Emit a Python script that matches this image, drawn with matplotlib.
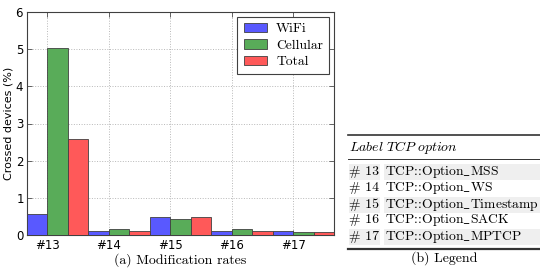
import matplotlib
matplotlib.use("Agg")
import matplotlib.pyplot as plt
import numpy as np
from matplotlib.lines import Line2D
from matplotlib.patches import Rectangle

categories = ["#13", "#14", "#15", "#16", "#17"]
wifi = [0.56, 0.10, 0.48, 0.10, 0.10]
cellular = [5.02, 0.15, 0.44, 0.15, 0.08]
total = [2.57, 0.11, 0.48, 0.11, 0.07]
series_names = ["WiFi", "Cellular", "Total"]
table_labels = ["# 13", "# 14", "# 15", "# 16", "# 17"]
table_options = ["TCP::Option_MSS", "TCP::Option_WS", "TCP::Option_Timestamp",
                 "TCP::Option_SACK", "TCP::Option_MPTCP"]

plt.rcParams['font.family'] = ['cmr10', 'DejaVu Serif']
plt.rcParams['mathtext.fontset'] = 'cm'
plt.rcParams['axes.formatter.use_mathtext'] = True

fig = plt.figure(figsize=(5.4, 2.74), dpi=100)
ax = fig.add_axes([27/540, 1-235/274, (334-27)/540, (235-12)/274])

ind = np.arange(len(categories))
w = 1/3
colors = ["#5959ff", "#59ac59", "#ff5959"]
for k, (vals, name) in enumerate(zip([wifi, cellular, total], series_names)):
    ax.bar(ind + k*w, vals, w, align='edge', color=colors[k], edgecolor='0.25',
           linewidth=0.6, label=name, zorder=3)

ax.set_xlim(0, 5)
ax.set_ylim(0, 6)
ax.set_xticks(ind + w)
ax.set_xticklabels(categories)
ax.set_yticks(range(7))
ax.tick_params(direction='in', top=True, right=True, length=3.5, width=0.6,
               labelsize=8.5, pad=3, color='0.3')
ax.tick_params(axis='y', pad=2)
for lab in ax.get_xticklabels() + ax.get_yticklabels():
    lab.set_fontfamily('DejaVu Sans')
ax.grid(True, linestyle=':', color='#b8b8b8', linewidth=0.7, zorder=0)
for s in ax.spines.values():
    s.set_linewidth(0.8)
    s.set_color('0.25')
ax.set_ylabel("Crossed devices (%)", fontsize=8, labelpad=1.5, fontfamily='DejaVu Sans')
ax.set_xlabel("(a) Modification rates", fontsize=10, labelpad=1)

leg = ax.legend(loc='upper right', prop={'size': 9.8}, fancybox=False, framealpha=1,
                edgecolor='0.25', handlelength=1.7, handleheight=0.66, handletextpad=0.7,
                borderaxespad=0.35, labelspacing=0.3, borderpad=0.45)
leg.get_frame().set_linewidth(0.8)

# Table (b)
x0, x1 = 348/540, 540/540
def fy(py):
    return 1 - py/274

row_y = [172, 188, 205, 220, 237]
for i, (lab, opt) in enumerate(zip(table_labels, table_options)):
    if i % 2 == 0:
        fig.add_artist(Rectangle((349/540, fy(row_y[i]+8)), (380-349)/540, 16/274,
                                 transform=fig.transFigure, color='#efefef', lw=0, zorder=0))
        fig.add_artist(Rectangle((384/540, fy(row_y[i]+8)), (540-384)/540, 16/274,
                                 transform=fig.transFigure, color='#efefef', lw=0, zorder=0))
    fig.text(349/540, fy(row_y[i]), lab, fontsize=10, va='center', ha='left')
    mt = opt.replace("_", r"$\_$")
    fig.text(385/540, fy(row_y[i]), mt, fontsize=9.8, va='center', ha='left')

fig.text(349/540, fy(148), r"$\mathit{Label\ TCP\ option}$", fontsize=10, va='center', ha='left')
fig.add_artist(Line2D([x0, x1], [fy(135), fy(135)], transform=fig.transFigure, color='0.2', lw=1.2))
fig.add_artist(Line2D([x0, x1], [fy(159), fy(159)], transform=fig.transFigure, color='0.2', lw=0.7))
fig.add_artist(Line2D([x0, x1], [fy(249), fy(249)], transform=fig.transFigure, color='0.2', lw=1.6))
fig.text(444/540, fy(258), "(b) Legend", fontsize=10, va='center', ha='center')

fig.savefig("out.png", dpi=100)
